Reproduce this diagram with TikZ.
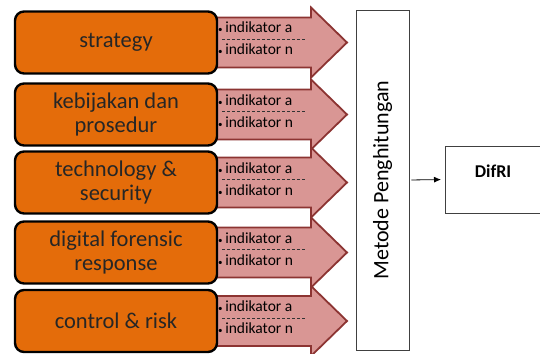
\documentclass[tikz,border=0pt]{standalone}
\usepackage{fontspec}
\setmainfont{Carlito}
\usepackage{tikz}
\usetikzlibrary{positioning,arrows.meta}
\definecolor{oranye}{RGB}{228,108,10}
\definecolor{panahisi}{RGB}{217,150,148}
\definecolor{panahtepi}{RGB}{140,52,50}

\begin{document}
\begin{tikzpicture}[x=1pt,y=-1pt,
	aspek/.style={draw=black, line width=2.4pt, fill=oranye, rounded corners=9pt,
		minimum width=202pt, minimum height=62pt, align=center, text=black!85,
		font=\fontsize{22.5}{24}\selectfont},
	indik/.style={anchor=base west, inner sep=0pt, font=\fontsize{15.5}{17}\selectfont},
	kotak/.style={draw=black!75, line width=0.8pt}]
	\useasboundingbox (0,0) rectangle (540,353);
	
	% Стрелки с индикаторами
	\foreach \yc [count=\i] in {42.5,114.5,182.5,252.5,321}{
		\filldraw[fill=panahisi, draw=panahtepi, line width=1.8pt]
		(205,\yc-25) -- (311,\yc-25) -- (311,\yc-35) -- (347,\yc)
		-- (311,\yc+35) -- (311,\yc+25) -- (205,\yc+25) -- cycle;
		\node[indik] (ia\i) at (218,\yc-9.5) {{\fontsize{9}{9}\selectfont •}\,indikator a};
		\node[indik] (in\i) at (218,\yc+12.5) {{\fontsize{9}{9}\selectfont •}\,indikator n};
		\draw[black!80, line width=0.6pt, dash pattern=on 3pt off 2pt] (222,\yc-3) -- (305,\yc-3);
	}
	
	% Оранжевые блоки
	\node[aspek] (strategi) at (116,42.5) {strategy};
	\node[aspek] (kebijakan) at (116,114.5) {kebijakan dan\\prosedur};
	\node[aspek] (teknologi) at (116,182.5) {technology \&\\security};
	\node[aspek] (forensik) at (116,252.5) {digital forensic\\response};
	\node[aspek] (kontrol) at (116,321) {control \& risk};
	
	% Метод и результат
	\node[kotak, rotate=90, minimum width=340pt, minimum height=53pt,
		font=\fontsize{22}{24}\selectfont] (metode) at (382.5,180) {Metode Penghitungan};
	\node[kotak, anchor=west, minimum width=97pt, minimum height=67pt] (difri) at (445,179.5) {};
	\node[font=\bfseries\fontsize{18}{20}\selectfont] (difriteks) at (493,171) {DifRI};
	
	\draw[-{Latex[length=7pt,width=6pt]}, line width=0.8pt, shorten <=2pt, shorten >=4pt]
	(metode.south) -- (difri.west);
	
\end{tikzpicture}
\end{document}
